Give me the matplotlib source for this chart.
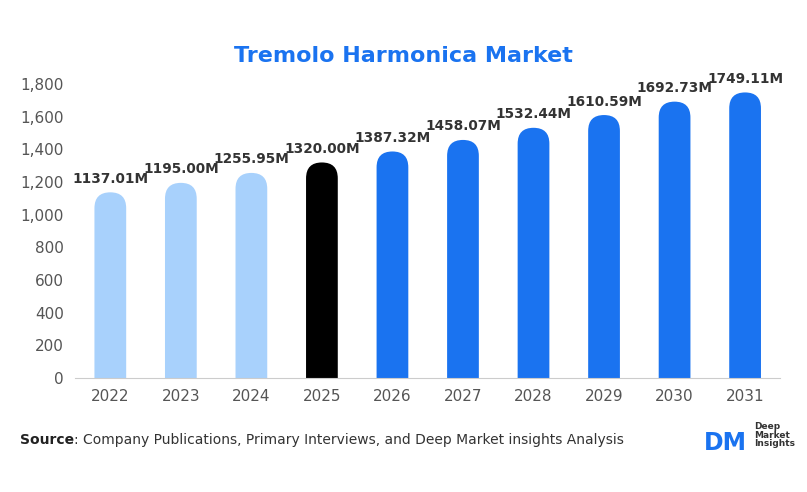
import matplotlib
matplotlib.use("Agg")
import matplotlib.pyplot as plt
from matplotlib.patches import FancyBboxPatch

years = ["2022","2023","2024","2025","2026","2027","2028","2029","2030","2031"]
values = [1137.01,1195.00,1255.95,1320.00,1387.32,1458.07,1532.44,1610.59,1692.73,1749.11]
colors = ["#a8d1fc"]*3 + ["#000000"] + ["#1a73f0"]*6

fig = plt.figure(figsize=(8.07,4.92), dpi=100)
ax = fig.add_axes([0.093,0.232,0.874,0.597])
ax.set_xlim(-0.5,9.5); ax.set_ylim(0,1800)
w = 0.45
aspect = (1800/294)/(10/705)
for i,(v,c) in enumerate(zip(values,colors)):
    p = FancyBboxPatch((i-w/2,-300), w, v+300, boxstyle="round,pad=0,rounding_size=%f"%(w/2),
                       mutation_aspect=aspect, fc=c, ec="none", clip_on=True)
    ax.add_patch(p)
    ax.text(i, v+40, f"{v:.2f}M", ha="center", va="bottom", fontsize=9.8, fontweight="bold", color="#333333")
ax.set_xticks(range(10)); ax.set_xticklabels(years)
ax.set_yticks(range(0,1801,200)); ax.set_yticklabels([f"{t:,}" for t in range(0,1801,200)])
for s in ["top","right","left"]: ax.spines[s].set_visible(False)
ax.spines["bottom"].set_color("#cccccc")
ax.tick_params(length=0, labelsize=11, colors="#555555", pad=8)
fig.text(0.5, 0.875, "Tremolo Harmonica Market", ha="center", fontsize=16, fontweight="bold", color="#1a73f0")
t = fig.text(0.025, 0.098, "Source", fontsize=10, fontweight="bold", color="#222222")
fig.canvas.draw()
bb = t.get_window_extent()
fig.text(bb.x1/fig.bbox.width, 0.098, ": Company Publications, Primary Interviews, and Deep Market insights Analysis", fontsize=10, color="#333333")
fig.text(0.872, 0.085, "DM", fontsize=17, fontweight="bold", color="#1a73f0")
fig.text(0.935, 0.093, "Deep\nMarket\nInsights", fontsize=6.5, fontweight="bold", color="#333333", linespacing=0.95)
fig.savefig("out.png")
